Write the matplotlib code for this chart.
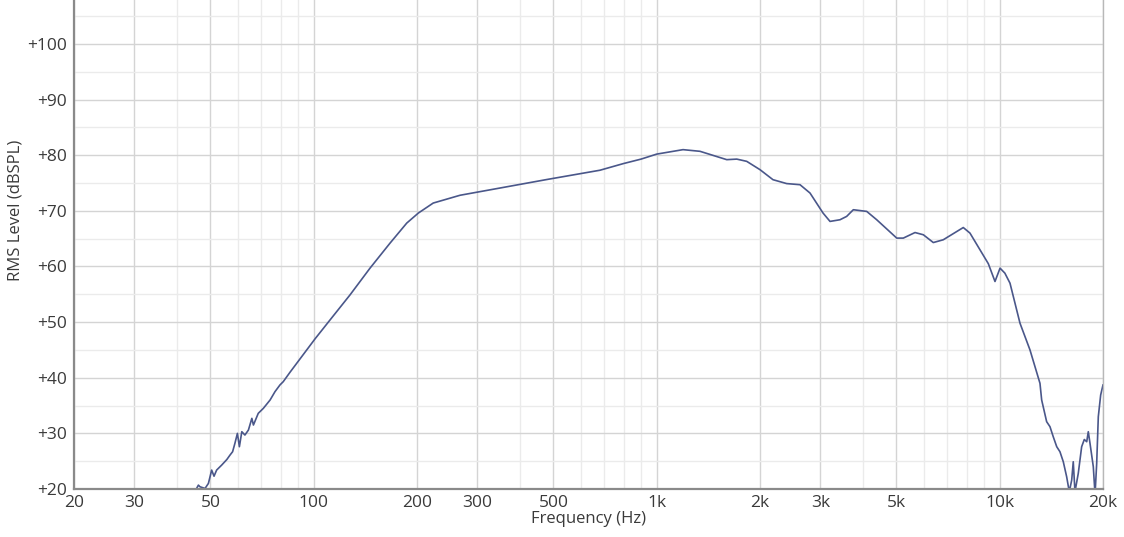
import matplotlib
matplotlib.use("Agg")
import matplotlib.pyplot as plt
from matplotlib.ticker import FixedLocator, FixedFormatter

# ---- data ----
freq_hz = [
    45.0, 46.1, 46.6, 48.2, 49.3, 50.4, 51.2, 52.1, 53.9, 55.8, 57.0, 58.0, 58.9,
    59.9, 60.7, 61.7, 63.0, 64.5, 66.0, 66.7, 68.9, 71.3, 74.6, 77.1, 79.7, 81.5,
    85.3, 100.9, 111.6, 127.6, 145.9, 166.9, 186.7, 201.8, 223, 267, 349, 475,
    683, 800, 900, 1000, 1193, 1337, 1600, 1711, 1829, 2000, 2182, 2392, 2616,
    2798, 3054, 3200, 3422, 3578, 3742, 4094, 4378, 5008, 5234, 5662, 5988, 6402,
    6844, 7828, 8188, 9262, 9686, 10020, 10350, 10712, 11456, 12250, 13100, 13250,
    13700, 14010, 14320, 14660, 14980, 15320, 15670, 15950, 16210, 16380, 16570,
    16940, 17330, 17640, 17930, 18120, 18330, 18740, 18960, 19170, 19380, 19690,
    20000,
]
level_db = [
    19.5, 20.7, 20.4, 20.1, 21.0, 23.4, 22.3, 23.4, 24.3, 25.3, 26.1, 26.7, 28.2,
    30.0, 27.6, 30.3, 29.7, 30.6, 32.7, 31.5, 33.6, 34.5, 36.0, 37.5, 38.7, 39.3,
    41.0, 47.0, 50.4, 54.9, 59.7, 64.2, 67.8, 69.6, 71.4, 72.8, 74.1, 75.6,
    77.3, 78.5, 79.3, 80.2, 81.0, 80.7, 79.2, 79.3, 78.9, 77.4, 75.6, 74.9, 74.7,
    73.2, 69.6, 68.1, 68.4, 69.0, 70.2, 69.9, 68.4, 65.1, 65.1, 66.1, 65.7, 64.3,
    64.8, 67.0, 66.0, 60.5, 57.3, 59.7, 58.8, 57.0, 49.8, 45.0, 39.0, 36.0,
    32.1, 31.2, 29.4, 27.6, 26.7, 24.9, 22.2, 19.5, 21.6, 24.9, 19.5,
    22.8, 27.6, 28.9, 28.5, 30.3, 28.2, 24.0, 19.0, 24.6, 33.0, 36.9,
    38.7,
]

major_freqs = [20, 30, 50, 100, 200, 300, 500, 1000, 2000, 3000, 5000, 10000, 20000]
major_labels = ["20", "30", "50", "100", "200", "300", "500", "1k", "2k", "3k", "5k", "10k", "20k"]
minor_freqs = [40, 60, 70, 80, 90, 400, 600, 700, 800, 900,
               4000, 6000, 7000, 8000, 9000]
y_major = [20, 30, 40, 50, 60, 70, 80, 90, 100]
y_labels = ["+20", "+30", "+40", "+50", "+60", "+70", "+80", "+90", "+100"]
y_minor = [25, 35, 45, 55, 65, 75, 85, 95, 105]

plt.rcParams['font.family'] = ['Open Sans', 'DejaVu Sans']

fig = plt.figure(figsize=(11.24, 5.37), dpi=100)
ax = fig.add_axes([74 / 1124, 48 / 537, (1103 - 74) / 1124, 489 / 537])

ax.plot(freq_hz, level_db, color="#4a578a", lw=1.2, clip_on=True)

ax.set_xscale("log")
ax.set_xlim(20, 20000)
ax.set_ylim(20, 107.9)

ax.xaxis.set_major_locator(FixedLocator(major_freqs))
ax.xaxis.set_major_formatter(FixedFormatter(major_labels))
ax.xaxis.set_minor_locator(FixedLocator(minor_freqs))
ax.xaxis.set_minor_formatter(FixedFormatter([""] * len(minor_freqs)))
ax.yaxis.set_major_locator(FixedLocator(y_major))
ax.yaxis.set_major_formatter(FixedFormatter(y_labels))
ax.yaxis.set_minor_locator(FixedLocator(y_minor))

ax.grid(which="major", color="#d4d4d4", lw=1.0)
ax.grid(which="minor", color="#ebebeb", lw=1.0)
ax.set_axisbelow(True)

ax.tick_params(which="both", length=0)
ax.tick_params(axis="y", pad=5, labelsize=12.5, colors="#3a3a3a")
ax.tick_params(axis="x", pad=4, labelsize=12.5, colors="#3a3a3a")

for s in ["left", "bottom"]:
    ax.spines[s].set_color("#8a8a8a")
    ax.spines[s].set_linewidth(1.6)
ax.spines["right"].set_color("#b8b8b8")
ax.spines["right"].set_linewidth(1.0)
ax.spines["top"].set_visible(False)

ax.set_xlabel("Frequency (Hz)", fontsize=12, color="#3a3a3a", va="top")
ax.xaxis.set_label_coords(0.5, -0.045)
ax.set_ylabel("RMS Level (dBSPL)", fontsize=12, color="#3a3a3a")
ax.yaxis.set_label_coords(-0.049, 0.57)

fig.savefig("out.png", dpi=100, facecolor="white")
